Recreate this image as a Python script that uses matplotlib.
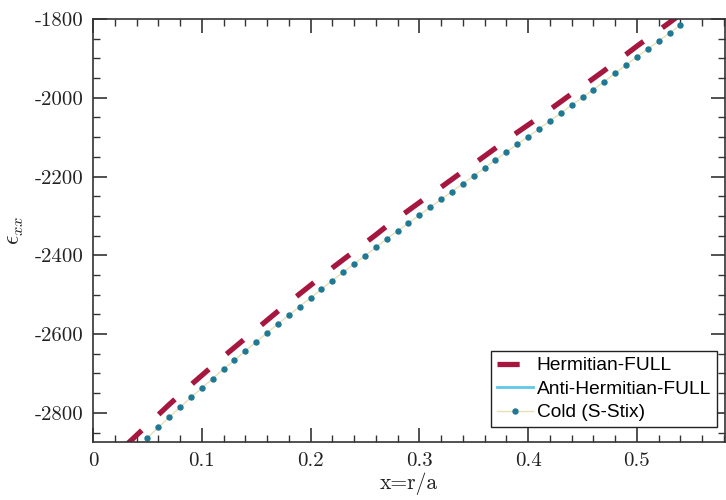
import matplotlib
matplotlib.use("Agg")
import matplotlib.pyplot as plt
from matplotlib.ticker import MultipleLocator

# cold plasma (S-Stix) sampled every 0.01 in r/a
cold_x = [0.05, 0.06, 0.07, 0.08, 0.09, 0.10, 0.11, 0.12, 0.13, 0.14,
          0.15, 0.16, 0.17, 0.18, 0.19, 0.20, 0.21, 0.22, 0.23, 0.24,
          0.25, 0.26, 0.27, 0.28, 0.29, 0.30, 0.31, 0.32, 0.33, 0.34,
          0.35, 0.36, 0.37, 0.38, 0.39, 0.40, 0.41, 0.42, 0.43, 0.44,
          0.45, 0.46, 0.47, 0.48, 0.49, 0.50, 0.51, 0.52, 0.53, 0.54]
cold_eps = [-2863, -2837, -2811, -2786, -2761, -2737, -2713, -2689, -2666, -2643,
            -2620, -2597, -2574, -2552, -2530, -2508, -2486, -2464, -2443, -2422,
            -2401, -2380, -2358, -2338, -2318, -2298, -2278, -2258, -2238, -2218,
            -2198, -2178, -2158, -2138, -2118, -2099, -2079, -2059, -2039, -2019,
            -1999, -1979, -1959, -1938, -1917, -1896, -1876, -1856, -1836, -1815]

herm_x = [0.03, 0.04] + cold_x
herm_eps = [-2883, -2857, -2831, -2805, -2779, -2754, -2729, -2705, -2681, -2657,
            -2634, -2611, -2588, -2565, -2542, -2520, -2498, -2476, -2454, -2432,
            -2411, -2390, -2369, -2348, -2326, -2306, -2286, -2266, -2246, -2227,
            -2207, -2187, -2168, -2148, -2128, -2108, -2088, -2069, -2050, -2030,
            -2010, -1990, -1971, -1951, -1931, -1910, -1890, -1869, -1849, -1829,
            -1809, -1788]

# anti-hermitian part stays near zero, off the visible range
anti_x = [0.0, 0.58]
anti_eps = [0.0, 0.0]

xticks = [0, 0.1, 0.2, 0.3, 0.4, 0.5]
xtick_labels = ["0", "0.1", "0.2", "0.3", "0.4", "0.5"]
yticks = [-2800, -2600, -2400, -2200, -2000, -1800]
ytick_labels = ["-2800", "-2600", "-2400", "-2200", "-2000", "-1800"]

plt.rcParams["font.family"] = "cmr10"
plt.rcParams["mathtext.fontset"] = "cm"
plt.rcParams["axes.unicode_minus"] = False

fig = plt.figure(figsize=(7.26, 5.0), dpi=100)
ax = fig.add_axes([93 / 726, 58 / 500, 632 / 726, 423 / 500])

ax.plot(herm_x, herm_eps, color="#a6173f", lw=3.8, dashes=(4.2, 4.4),
        dash_capstyle="butt", label="Hermitian-FULL")
ax.plot(anti_x, anti_eps, color="#5ec8ea", lw=2.0, label="Anti-Hermitian-FULL")
ax.plot(cold_x, cold_eps, color="#e6e0b4", lw=1.0, marker="o", ms=3.6,
        mfc="#1f7894", mec="#1f7894", label="Cold (S-Stix)")

ax.set_xlim(0, 0.581)
ax.set_ylim(-2874, -1800)
ax.xaxis.set_minor_locator(MultipleLocator(0.02))
ax.yaxis.set_minor_locator(MultipleLocator(50))
ax.set_xticks(xticks)
ax.set_xticklabels(xtick_labels)
ax.set_yticks(yticks)
ax.set_yticklabels(ytick_labels)

ax.tick_params(which="both", direction="in", top=True, right=True,
               colors="#333333", labelcolor="#222222", labelsize=15, pad=7)
ax.tick_params(which="major", length=10, width=1.2)
ax.tick_params(which="minor", length=5, width=1.0)
for sp in ax.spines.values():
    sp.set_color("#333333")
    sp.set_linewidth(1.2)

ax.set_xlabel("x=r/a", fontsize=15.5, color="#222222", labelpad=2)
ax.set_ylabel(r"$\epsilon_{xx}$", fontsize=17, color="#222222")
ax.yaxis.set_label_coords(-0.106, 0.5)

leg = ax.legend(loc="lower right", bbox_to_anchor=(0.987, 0.035), borderaxespad=0,
                prop={"family": "Liberation Sans", "size": 13.8},
                handlelength=1.9, handletextpad=0.2, labelspacing=0.32,
                borderpad=0.3, fancybox=False, framealpha=1)
leg.get_frame().set_edgecolor("#222222")
leg.get_frame().set_linewidth(1.0)

fig.savefig("out.png", dpi=100)
